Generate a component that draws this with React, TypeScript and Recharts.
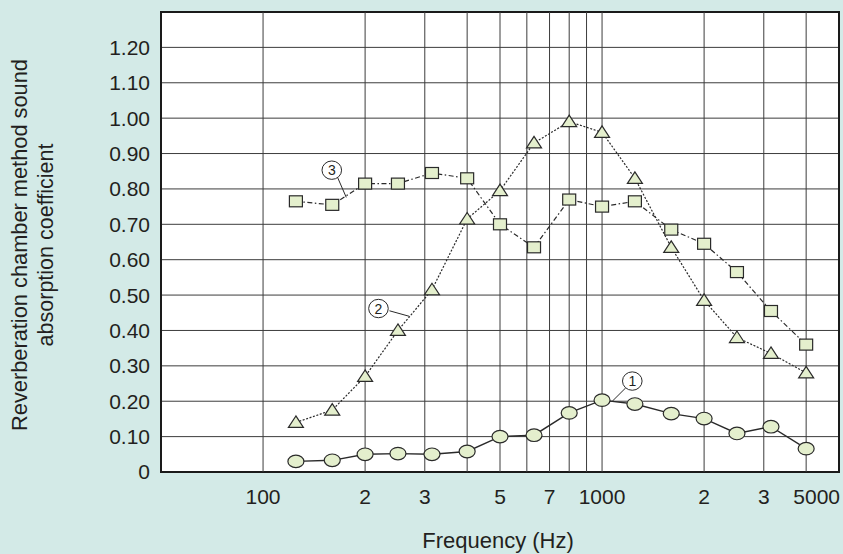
import React from 'react';
import {
  LineChart,
  Line,
  XAxis,
  YAxis,
  CartesianGrid,
  ReferenceLine,
  ReferenceArea,
  ReferenceDot,
} from 'recharts';

// 1/3-octave band centre frequencies (Hz)
const freqs = [125, 160, 200, 250, 315, 400, 500, 630, 800, 1000, 1250, 1600, 2000, 2500, 3150, 4000];
// Series ① (circles, solid)
const series1 = [0.03, 0.033, 0.05, 0.052, 0.05, 0.058, 0.1, 0.104, 0.167, 0.203, 0.192, 0.165, 0.151, 0.109, 0.128, 0.066];
// Series ② (triangles, dotted)
const series2 = [0.14, 0.175, 0.27, 0.4, 0.515, 0.715, 0.795, 0.93, 0.99, 0.96, 0.83, 0.635, 0.485, 0.38, 0.335, 0.28];
// Series ③ (squares, dash-dot)
const series3 = [0.765, 0.755, 0.815, 0.815, 0.845, 0.83, 0.7, 0.635, 0.77, 0.75, 0.765, 0.685, 0.645, 0.565, 0.455, 0.36];

const xTicks = [100, 200, 300, 500, 700, 1000, 2000, 3000, 5000];
const xTickLabels = ['100', '2', '3', '5', '7', '1000', '2', '3', '5000'];
const yTicks = [0, 0.1, 0.2, 0.3, 0.4, 0.5, 0.6, 0.7, 0.8, 0.9, 1.0, 1.1, 1.2];
const gridFreqs = [100, 200, 300, 400, 500, 600, 700, 800, 900, 1000, 2000, 3000, 4000];

// Callout labels (circled numbers) with leader lines, in data coordinates
const calloutLabels = ['1', '2', '3'];
const calloutAnchors = [
  { f: 1228, v: 0.257 },
  { f: 219, v: 0.462 },
  { f: 159.5, v: 0.853 },
];
const leaderSegments = [
  [{ x: 1175, y: 0.238 }, { x: 1072, y: 0.2 }],
  [{ x: 236, y: 0.4556 }, { x: 270, y: 0.44 }],
  [{ x: 166, y: 0.832 }, { x: 176, y: 0.776 }],
];

const data = freqs.map((f, i) => ({ f, s1: series1[i], s2: series2[i], s3: series3[i] }));

const BG = '#d3eae7';
const MARK = '#e4efcd';
const INK = '#2a2a2a';
const TXT = '#231f20';
const FONT = '"Liberation Sans", Arial, Helvetica, sans-serif';
const FS = 21;

const CircleDot = (p: any) => {
  if (p.cx == null || p.cy == null) return <g key={p.key} />;
  return <ellipse key={p.key} cx={p.cx} cy={p.cy} rx={8} ry={6.3} fill={MARK} stroke={INK} strokeWidth={1.2} />;
};
const TriDot = (p: any) => {
  if (p.cx == null || p.cy == null) return <g key={p.key} />;
  const { cx, cy } = p;
  return (
    <polygon
      key={p.key}
      points={`${cx},${cy - 6.5} ${cx - 7.5},${cy + 5} ${cx + 7.5},${cy + 5}`}
      fill={MARK}
      stroke={INK}
      strokeWidth={1.2}
    />
  );
};
const SquareDot = (p: any) => {
  if (p.cx == null || p.cy == null) return <g key={p.key} />;
  return <rect key={p.key} x={p.cx - 6.5} y={p.cy - 5.5} width={13} height={11} fill={MARK} stroke={INK} strokeWidth={1.2} />;
};

const XTick = (p: any) => {
  const idx = xTicks.indexOf(p.payload.value);
  const label = idx >= 0 ? xTickLabels[idx] : String(p.payload.value);
  const isLast = idx === xTicks.length - 1;
  return (
    <text
      x={isLast ? p.x + 1 : p.x}
      y={p.y}
      dy="0.71em"
      textAnchor={isLast ? 'end' : 'middle'}
      fill={TXT}
      fontSize={FS}
      fontFamily={FONT}
    >
      {label}
    </text>
  );
};

const YTitle = () => (
  <g>
    <text
      transform="translate(27,245) rotate(-90)"
      textAnchor="middle"
      fill={TXT}
      fontSize={21.8}
      fontFamily={FONT}
    >
      Reverberation chamber method sound
    </text>
    <text
      transform="translate(53,245) rotate(-90)"
      textAnchor="middle"
      fill={TXT}
      fontSize={21.5}
      fontFamily={FONT}
    >
      absorption coefficient
    </text>
  </g>
);

const XTitle = () => (
  <text x={498} y={548} textAnchor="middle" fill={TXT} fontSize={22} fontFamily={FONT}>
    Frequency (Hz)
  </text>
);

const makeCallout = (label: string) => (p: any) => {
  if (p.cx == null || p.cy == null) return <g />;
  return (
    <g>
      <ellipse cx={p.cx} cy={p.cy} rx={9.8} ry={9.2} fill="#fff" stroke={INK} strokeWidth={1} />
      <text x={p.cx} y={p.cy} dy="0.36em" textAnchor="middle" fill={TXT} fontSize={14} fontFamily={FONT}>
        {label}
      </text>
    </g>
  );
};

export default function App() {
  return (
    <div style={{ position: 'absolute', left: 0, top: 0, width: 843, height: 554, background: BG }}>
      <LineChart
        width={843}
        height={554}
        data={data}
        margin={{ top: 12, right: 4, bottom: 0, left: 0 }}
        style={{ fontFamily: FONT }}
      >
        <CartesianGrid vertical={false} stroke="#3c3c3c" strokeWidth={1} fill="#ffffff" fillOpacity={1} />
        {gridFreqs.map((g) => (
          <ReferenceLine key={'g' + g} x={g} stroke="#3c3c3c" strokeWidth={1} />
        ))}
        <XAxis
          dataKey="f"
          type="number"
          scale="log"
          domain={[50, 5000]}
          allowDataOverflow
          ticks={xTicks}
          interval={0}
          axisLine={false}
          tickLine={false}
          tickSize={0}
          tickMargin={17}
          height={82}
          tick={<XTick />}
          label={XTitle}
        />
        <YAxis
          type="number"
          domain={[0, 1.3]}
          ticks={yTicks}
          interval={0}
          axisLine={false}
          tickLine={false}
          tickSize={0}
          tickMargin={11}
          width={161}
          tick={{ fill: TXT, fontSize: FS, fontFamily: FONT }}
          tickFormatter={(v: number) => (v === 0 ? '0' : v.toFixed(2))}
          label={YTitle}
        />
        <ReferenceArea x1={50} x2={5000} y1={0} y2={1.3} fill="none" fillOpacity={0} stroke="#1a1a1a" strokeWidth={2} />
        <Line
          dataKey="s3"
          stroke={INK}
          strokeWidth={1.2}
          strokeDasharray="5 2.5 1.5 2.5"
          dot={SquareDot}
          activeDot={false}
          isAnimationActive={false}
        />
        <Line
          dataKey="s2"
          stroke={INK}
          strokeWidth={1.2}
          strokeDasharray="2 1.6"
          dot={TriDot}
          activeDot={false}
          isAnimationActive={false}
        />
        <Line
          dataKey="s1"
          stroke={INK}
          strokeWidth={1.4}
          dot={CircleDot}
          activeDot={false}
          isAnimationActive={false}
        />
        {leaderSegments.map((seg, i) => (
          <ReferenceLine key={'l' + i} segment={seg} stroke={INK} strokeWidth={1} />
        ))}
        {calloutAnchors.map((a, i) => (
          <ReferenceDot key={'c' + i} x={a.f} y={a.v} r={9.5} shape={makeCallout(calloutLabels[i])} />
        ))}
      </LineChart>
    </div>
  );
}
